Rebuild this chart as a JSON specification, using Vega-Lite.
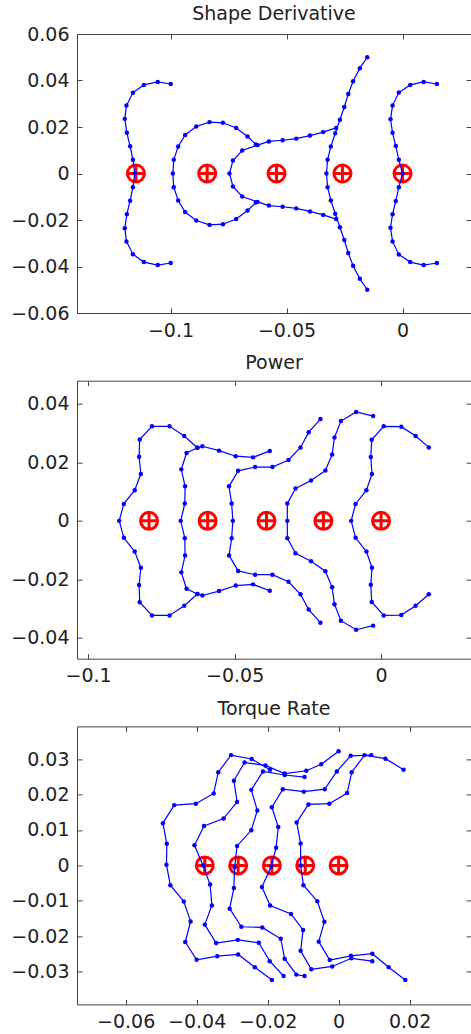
{
"$schema": "https://vega.github.io/schema/vega-lite/v6.json",
"padding": {"left": 0, "top": 5, "right": 0, "bottom": 0},
"spacing": 13.7,
"background": "white",
"config": {
  "axis": {"grid": false, "domainColor": "#444", "tickColor": "#444", "tickSize": -5, "labelFont": "DejaVu Sans", "labelFontSize": 19, "labelColor": "#222", "title": null, "format": "~g", "labelPadding": 13},
  "title": {"font": "DejaVu Sans", "fontSize": 19, "fontWeight": "normal", "color": "#222", "baseline": "alphabetic"},
  "view": {"stroke": null}
},
"datasets": {
  "sd": [
    {"c":1,"i":0,"x":-0.0999,"y":0.0385},{"c":1,"i":1,"x":-0.1055,"y":0.0394},{"c":1,"i":2,"x":-0.1115,"y":0.0381},{"c":1,"i":3,"x":-0.1162,"y":0.0347},{"c":1,"i":4,"x":-0.1190,"y":0.0292},{"c":1,"i":5,"x":-0.1197,"y":0.0235},{"c":1,"i":6,"x":-0.1188,"y":0.0175},{"c":1,"i":7,"x":-0.1174,"y":0.0117},{"c":1,"i":8,"x":-0.1162,"y":0.0059},{"c":1,"i":9,"x":-0.1154,"y":0},{"c":1,"i":10,"x":-0.1162,"y":-0.0059},{"c":1,"i":11,"x":-0.1174,"y":-0.0117},{"c":1,"i":12,"x":-0.1188,"y":-0.0175},{"c":1,"i":13,"x":-0.1197,"y":-0.0235},{"c":1,"i":14,"x":-0.1190,"y":-0.0292},{"c":1,"i":15,"x":-0.1162,"y":-0.0347},{"c":1,"i":16,"x":-0.1115,"y":-0.0381},{"c":1,"i":17,"x":-0.1055,"y":-0.0394},{"c":1,"i":18,"x":-0.0999,"y":-0.0385},
    {"c":2,"i":0,"x":-0.0632,"y":0.0125},{"c":2,"i":1,"x":-0.0668,"y":0.0159},{"c":2,"i":2,"x":-0.0717,"y":0.0196},{"c":2,"i":3,"x":-0.0774,"y":0.0218},{"c":2,"i":4,"x":-0.0832,"y":0.0221},{"c":2,"i":5,"x":-0.0889,"y":0.0202},{"c":2,"i":6,"x":-0.0937,"y":0.0166},{"c":2,"i":7,"x":-0.0967,"y":0.0116},{"c":2,"i":8,"x":-0.0986,"y":0.0059},{"c":2,"i":9,"x":-0.0990,"y":0},{"c":2,"i":10,"x":-0.0986,"y":-0.0059},{"c":2,"i":11,"x":-0.0967,"y":-0.0116},{"c":2,"i":12,"x":-0.0937,"y":-0.0166},{"c":2,"i":13,"x":-0.0889,"y":-0.0202},{"c":2,"i":14,"x":-0.0832,"y":-0.0221},{"c":2,"i":15,"x":-0.0774,"y":-0.0218},{"c":2,"i":16,"x":-0.0717,"y":-0.0196},{"c":2,"i":17,"x":-0.0668,"y":-0.0159},{"c":2,"i":18,"x":-0.0632,"y":-0.0125},
    {"c":3,"i":0,"x":-0.0286,"y":0.0196},{"c":3,"i":1,"x":-0.0342,"y":0.0178},{"c":3,"i":2,"x":-0.0399,"y":0.0163},{"c":3,"i":3,"x":-0.0458,"y":0.0150},{"c":3,"i":4,"x":-0.0517,"y":0.0143},{"c":3,"i":5,"x":-0.0576,"y":0.0138},{"c":3,"i":6,"x":-0.0625,"y":0.0122},{"c":3,"i":7,"x":-0.0691,"y":0.0099},{"c":3,"i":8,"x":-0.0731,"y":0.0056},{"c":3,"i":9,"x":-0.0746,"y":0},{"c":3,"i":10,"x":-0.0731,"y":-0.0056},{"c":3,"i":11,"x":-0.0691,"y":-0.0099},{"c":3,"i":12,"x":-0.0625,"y":-0.0122},{"c":3,"i":13,"x":-0.0576,"y":-0.0138},{"c":3,"i":14,"x":-0.0517,"y":-0.0143},{"c":3,"i":15,"x":-0.0458,"y":-0.0150},{"c":3,"i":16,"x":-0.0399,"y":-0.0163},{"c":3,"i":17,"x":-0.0342,"y":-0.0178},{"c":3,"i":18,"x":-0.0286,"y":-0.0196},
    {"c":4,"i":0,"x":-0.0152,"y":0.0500},{"c":4,"i":1,"x":-0.0184,"y":0.0453},{"c":4,"i":2,"x":-0.0213,"y":0.0397},{"c":4,"i":3,"x":-0.0234,"y":0.0342},{"c":4,"i":4,"x":-0.0251,"y":0.0286},{"c":4,"i":5,"x":-0.0270,"y":0.0231},{"c":4,"i":6,"x":-0.0290,"y":0.0173},{"c":4,"i":7,"x":-0.0309,"y":0.0116},{"c":4,"i":8,"x":-0.0323,"y":0.0059},{"c":4,"i":9,"x":-0.0328,"y":0},{"c":4,"i":10,"x":-0.0323,"y":-0.0059},{"c":4,"i":11,"x":-0.0309,"y":-0.0116},{"c":4,"i":12,"x":-0.0290,"y":-0.0173},{"c":4,"i":13,"x":-0.0270,"y":-0.0231},{"c":4,"i":14,"x":-0.0251,"y":-0.0286},{"c":4,"i":15,"x":-0.0234,"y":-0.0342},{"c":4,"i":16,"x":-0.0213,"y":-0.0397},{"c":4,"i":17,"x":-0.0184,"y":-0.0453},{"c":4,"i":18,"x":-0.0152,"y":-0.0500},
    {"c":5,"i":0,"x":0.0148,"y":0.0385},{"c":5,"i":1,"x":0.0091,"y":0.0394},{"c":5,"i":2,"x":0.0033,"y":0.0381},{"c":5,"i":3,"x":-0.0016,"y":0.0348},{"c":5,"i":4,"x":-0.0043,"y":0.0292},{"c":5,"i":5,"x":-0.0052,"y":0.0233},{"c":5,"i":6,"x":-0.0043,"y":0.0175},{"c":5,"i":7,"x":-0.0029,"y":0.0118},{"c":5,"i":8,"x":-0.0016,"y":0.0059},{"c":5,"i":9,"x":0,"y":0},{"c":5,"i":10,"x":-0.0016,"y":-0.0059},{"c":5,"i":11,"x":-0.0029,"y":-0.0118},{"c":5,"i":12,"x":-0.0043,"y":-0.0175},{"c":5,"i":13,"x":-0.0052,"y":-0.0233},{"c":5,"i":14,"x":-0.0043,"y":-0.0292},{"c":5,"i":15,"x":-0.0016,"y":-0.0348},{"c":5,"i":16,"x":0.0033,"y":-0.0381},{"c":5,"i":17,"x":0.0091,"y":-0.0394},{"c":5,"i":18,"x":0.0148,"y":-0.0385}
  ],
  "sdm": [{"x":-0.1149,"y":0},{"x":-0.0842,"y":0},{"x":-0.0543,"y":0},{"x":-0.0259,"y":0},{"x":0,"y":0}],
  "pw": [
    {"c":1,"i":0,"x":-0.0380,"y":0.0239},{"c":1,"i":1,"x":-0.0437,"y":0.0217},{"c":1,"i":2,"x":-0.0496,"y":0.0221},{"c":1,"i":3,"x":-0.0553,"y":0.0240},{"c":1,"i":4,"x":-0.0610,"y":0.0255},{"c":1,"i":5,"x":-0.0627,"y":0.0250},{"c":1,"i":6,"x":-0.0672,"y":0.0290},{"c":1,"i":7,"x":-0.0722,"y":0.0323},{"c":1,"i":8,"x":-0.0782,"y":0.0323},{"c":1,"i":9,"x":-0.0824,"y":0.0278},{"c":1,"i":10,"x":-0.0826,"y":0.0219},{"c":1,"i":11,"x":-0.0820,"y":0.0160},{"c":1,"i":12,"x":-0.0841,"y":0.0105},{"c":1,"i":13,"x":-0.0878,"y":0.0058},{"c":1,"i":14,"x":-0.0894,"y":0},{"c":1,"i":15,"x":-0.0878,"y":-0.0058},{"c":1,"i":16,"x":-0.0841,"y":-0.0105},{"c":1,"i":17,"x":-0.0820,"y":-0.0160},{"c":1,"i":18,"x":-0.0826,"y":-0.0219},{"c":1,"i":19,"x":-0.0824,"y":-0.0278},{"c":1,"i":20,"x":-0.0782,"y":-0.0323},{"c":1,"i":21,"x":-0.0722,"y":-0.0323},{"c":1,"i":22,"x":-0.0672,"y":-0.0290},{"c":1,"i":23,"x":-0.0627,"y":-0.0250},{"c":1,"i":24,"x":-0.0610,"y":-0.0255},{"c":1,"i":25,"x":-0.0553,"y":-0.0240},{"c":1,"i":26,"x":-0.0496,"y":-0.0221},{"c":1,"i":27,"x":-0.0437,"y":-0.0217},{"c":1,"i":28,"x":-0.0380,"y":-0.0239},
    {"c":2,"i":0,"x":-0.0627,"y":0.0250},{"c":2,"i":1,"x":-0.0664,"y":0.0232},{"c":2,"i":2,"x":-0.0682,"y":0.0176},{"c":2,"i":3,"x":-0.0669,"y":0.0118},{"c":2,"i":4,"x":-0.0670,"y":0.0059},{"c":2,"i":5,"x":-0.0684,"y":0},{"c":2,"i":6,"x":-0.0670,"y":-0.0059},{"c":2,"i":7,"x":-0.0669,"y":-0.0118},{"c":2,"i":8,"x":-0.0682,"y":-0.0176},{"c":2,"i":9,"x":-0.0664,"y":-0.0232},{"c":2,"i":10,"x":-0.0627,"y":-0.0250},
    {"c":3,"i":0,"x":-0.0207,"y":0.0348},{"c":3,"i":1,"x":-0.0247,"y":0.0303},{"c":3,"i":2,"x":-0.0275,"y":0.0251},{"c":3,"i":3,"x":-0.0316,"y":0.0208},{"c":3,"i":4,"x":-0.0371,"y":0.0184},{"c":3,"i":5,"x":-0.0430,"y":0.0184},{"c":3,"i":6,"x":-0.0488,"y":0.0171},{"c":3,"i":7,"x":-0.0519,"y":0.0118},{"c":3,"i":8,"x":-0.0510,"y":0.0059},{"c":3,"i":9,"x":-0.0506,"y":0},{"c":3,"i":10,"x":-0.0510,"y":-0.0059},{"c":3,"i":11,"x":-0.0519,"y":-0.0118},{"c":3,"i":12,"x":-0.0488,"y":-0.0171},{"c":3,"i":13,"x":-0.0430,"y":-0.0184},{"c":3,"i":14,"x":-0.0371,"y":-0.0184},{"c":3,"i":15,"x":-0.0316,"y":-0.0208},{"c":3,"i":16,"x":-0.0275,"y":-0.0251},{"c":3,"i":17,"x":-0.0247,"y":-0.0303},{"c":3,"i":18,"x":-0.0207,"y":-0.0348},
    {"c":4,"i":0,"x":-0.0027,"y":0.0358},{"c":4,"i":1,"x":-0.0085,"y":0.0372},{"c":4,"i":2,"x":-0.0137,"y":0.0341},{"c":4,"i":3,"x":-0.0159,"y":0.0285},{"c":4,"i":4,"x":-0.0167,"y":0.0227},{"c":4,"i":5,"x":-0.0190,"y":0.0172},{"c":4,"i":6,"x":-0.0239,"y":0.0138},{"c":4,"i":7,"x":-0.0292,"y":0.0111},{"c":4,"i":8,"x":-0.0320,"y":0.0059},{"c":4,"i":9,"x":-0.0320,"y":0},{"c":4,"i":10,"x":-0.0320,"y":-0.0059},{"c":4,"i":11,"x":-0.0292,"y":-0.0111},{"c":4,"i":12,"x":-0.0239,"y":-0.0138},{"c":4,"i":13,"x":-0.0190,"y":-0.0172},{"c":4,"i":14,"x":-0.0167,"y":-0.0227},{"c":4,"i":15,"x":-0.0159,"y":-0.0285},{"c":4,"i":16,"x":-0.0137,"y":-0.0341},{"c":4,"i":17,"x":-0.0085,"y":-0.0372},{"c":4,"i":18,"x":-0.0027,"y":-0.0358},
    {"c":5,"i":0,"x":0.0163,"y":0.0251},{"c":5,"i":1,"x":0.0118,"y":0.0290},{"c":5,"i":2,"x":0.0069,"y":0.0322},{"c":5,"i":3,"x":0.0009,"y":0.0323},{"c":5,"i":4,"x":-0.0032,"y":0.0277},{"c":5,"i":5,"x":-0.0035,"y":0.0218},{"c":5,"i":6,"x":-0.0031,"y":0.0160},{"c":5,"i":7,"x":-0.0050,"y":0.0105},{"c":5,"i":8,"x":-0.0087,"y":0.0058},{"c":5,"i":9,"x":-0.0102,"y":0},{"c":5,"i":10,"x":-0.0087,"y":-0.0058},{"c":5,"i":11,"x":-0.0050,"y":-0.0105},{"c":5,"i":12,"x":-0.0031,"y":-0.0160},{"c":5,"i":13,"x":-0.0035,"y":-0.0218},{"c":5,"i":14,"x":-0.0032,"y":-0.0277},{"c":5,"i":15,"x":0.0009,"y":-0.0323},{"c":5,"i":16,"x":0.0069,"y":-0.0322},{"c":5,"i":17,"x":0.0118,"y":-0.0290},{"c":5,"i":18,"x":0.0163,"y":-0.0251}
  ],
  "pwm": [{"x":-0.0792,"y":0},{"x":-0.0592,"y":0},{"x":-0.0391,"y":0},{"x":-0.0197,"y":0},{"x":0,"y":0}],
  "tr": [
    {"c":1,"i":0,"x":-0.0193,"y":0.0270},{"c":1,"i":1,"x":-0.0245,"y":0.0300},{"c":1,"i":2,"x":-0.0303,"y":0.0311},{"c":1,"i":3,"x":-0.0339,"y":0.0263},{"c":1,"i":4,"x":-0.0352,"y":0.0203},{"c":1,"i":5,"x":-0.0402,"y":0.0174},{"c":1,"i":6,"x":-0.0463,"y":0.0170},{"c":1,"i":7,"x":-0.0495,"y":0.0119},{"c":1,"i":8,"x":-0.0484,"y":0.0061},{"c":1,"i":9,"x":-0.0485,"y":0.0002},{"c":1,"i":10,"x":-0.0474,"y":-0.0056},{"c":1,"i":11,"x":-0.0436,"y":-0.0102},{"c":1,"i":12,"x":-0.0417,"y":-0.0158},{"c":1,"i":13,"x":-0.0432,"y":-0.0216},{"c":1,"i":14,"x":-0.0400,"y":-0.0266},{"c":1,"i":15,"x":-0.0342,"y":-0.0256},{"c":1,"i":16,"x":-0.0283,"y":-0.0251},{"c":1,"i":17,"x":-0.0236,"y":-0.0287},{"c":1,"i":18,"x":-0.0188,"y":-0.0323},
    {"c":2,"i":0,"x":0,"y":0.0322},{"c":2,"i":1,"x":-0.0049,"y":0.0285},{"c":2,"i":2,"x":-0.0091,"y":0.0267},{"c":2,"i":3,"x":-0.0152,"y":0.0259},{"c":2,"i":4,"x":-0.0206,"y":0.0282},{"c":2,"i":5,"x":-0.0265,"y":0.0290},{"c":2,"i":6,"x":-0.0295,"y":0.0239},{"c":2,"i":7,"x":-0.0286,"y":0.0179},{"c":2,"i":8,"x":-0.0324,"y":0.0132},{"c":2,"i":9,"x":-0.0379,"y":0.0111},{"c":2,"i":10,"x":-0.0406,"y":0.0057},{"c":2,"i":11,"x":-0.0382,"y":0},{"c":2,"i":12,"x":-0.0362,"y":-0.0054},{"c":2,"i":13,"x":-0.0357,"y":-0.0113},{"c":2,"i":14,"x":-0.0377,"y":-0.0167},{"c":2,"i":15,"x":-0.0345,"y":-0.0219},{"c":2,"i":16,"x":-0.0284,"y":-0.0210},{"c":2,"i":17,"x":-0.0225,"y":-0.0218},{"c":2,"i":18,"x":-0.0194,"y":-0.0270},{"c":2,"i":19,"x":-0.0155,"y":-0.0312},
    {"c":3,"i":0,"x":-0.0096,"y":0.0249},{"c":3,"i":1,"x":-0.0152,"y":0.0255},{"c":3,"i":2,"x":-0.0213,"y":0.0265},{"c":3,"i":3,"x":-0.0246,"y":0.0213},{"c":3,"i":4,"x":-0.0229,"y":0.0155},{"c":3,"i":5,"x":-0.0246,"y":0.0099},{"c":3,"i":6,"x":-0.0286,"y":0.0055},{"c":3,"i":7,"x":-0.0293,"y":-0.0005},{"c":3,"i":8,"x":-0.0295,"y":-0.0064},{"c":3,"i":9,"x":-0.0307,"y":-0.0122},{"c":3,"i":10,"x":-0.0274,"y":-0.0173},{"c":3,"i":11,"x":-0.0215,"y":-0.0175},{"c":3,"i":12,"x":-0.0163,"y":-0.0207},{"c":3,"i":13,"x":-0.0152,"y":-0.0263},{"c":3,"i":14,"x":-0.0119,"y":-0.0308},{"c":3,"i":15,"x":-0.0096,"y":-0.0312},
    {"c":4,"i":0,"x":0.0092,"y":0.0311},{"c":4,"i":1,"x":0.0034,"y":0.0309},{"c":4,"i":2,"x":-0.0005,"y":0.0265},{"c":4,"i":3,"x":-0.0039,"y":0.0215},{"c":4,"i":4,"x":-0.0098,"y":0.0208},{"c":4,"i":5,"x":-0.0157,"y":0.0215},{"c":4,"i":6,"x":-0.0188,"y":0.0164},{"c":4,"i":7,"x":-0.0170,"y":0.0108},{"c":4,"i":8,"x":-0.0176,"y":0.0050},{"c":4,"i":9,"x":-0.0190,"y":-0.0003},{"c":4,"i":10,"x":-0.0216,"y":-0.0061},{"c":4,"i":11,"x":-0.0193,"y":-0.0113},{"c":4,"i":12,"x":-0.0134,"y":-0.0137},{"c":4,"i":13,"x":-0.0100,"y":-0.0182},{"c":4,"i":14,"x":-0.0107,"y":-0.0241},{"c":4,"i":15,"x":-0.0077,"y":-0.0293},{"c":4,"i":16,"x":-0.0018,"y":-0.0285},{"c":4,"i":17,"x":0.0036,"y":-0.0262},{"c":4,"i":18,"x":0.0095,"y":-0.0270},
    {"c":5,"i":0,"x":0.0183,"y":0.0270},{"c":5,"i":1,"x":0.0132,"y":0.0301},{"c":5,"i":2,"x":0.0073,"y":0.0311},{"c":5,"i":3,"x":0.0037,"y":0.0263},{"c":5,"i":4,"x":0.0024,"y":0.0204},{"c":5,"i":5,"x":-0.0026,"y":0.0174},{"c":5,"i":6,"x":-0.0085,"y":0.0172},{"c":5,"i":7,"x":-0.0118,"y":0.0121},{"c":5,"i":8,"x":-0.0107,"y":0.0062},{"c":5,"i":9,"x":-0.0107,"y":0},{"c":5,"i":10,"x":-0.0099,"y":-0.0056},{"c":5,"i":11,"x":-0.0060,"y":-0.0101},{"c":5,"i":12,"x":-0.0040,"y":-0.0159},{"c":5,"i":13,"x":-0.0056,"y":-0.0215},{"c":5,"i":14,"x":-0.0025,"y":-0.0267},{"c":5,"i":15,"x":0.0035,"y":-0.0255},{"c":5,"i":16,"x":0.0095,"y":-0.0249},{"c":5,"i":17,"x":0.0141,"y":-0.0287},{"c":5,"i":18,"x":0.0188,"y":-0.0323}
  ],
  "trm": [{"x":-0.0377,"y":0},{"x":-0.0283,"y":0},{"x":-0.0188,"y":0},{"x":-0.0094,"y":0},{"x":0,"y":0}]
},
"vconcat": [
  {
    "width": 394, "height": 279,
    "title": {"text": "Shape Derivative", "offset": 1},
    "layer": [
      {"data": {"name": "sdm"},
       "mark": {"type": "point", "shape": "M-1,0A1,1 0 1,1 1,0A1,1 0 1,1 -1,0M-1,0L1,0M0,-1L0,1", "filled": false, "stroke": "#ff0000", "strokeWidth": 3, "size": 289, "opacity": 1},
       "encoding": {
         "x": {"field": "x", "type": "quantitative", "scale": {"domain": [-0.1403, 0.0295], "nice": false, "zero": false}, "axis": {"orient": "top", "labels": false, "values": [-0.1, -0.05, 0]}},
         "y": {"field": "y", "type": "quantitative", "scale": {"domain": [-0.06, 0.06], "nice": false, "zero": false}, "axis": {"orient": "right", "labels": false, "domain": false, "values": [-0.06, -0.04, -0.02, 0, 0.02, 0.04, 0.06]}}
       }},
      {"data": {"name": "sd"},
       "mark": {"type": "line", "color": "#0000ff", "strokeWidth": 1.2, "point": {"filled": true, "size": 20, "color": "#0000ff", "opacity": 1}},
       "encoding": {
         "x": {"field": "x", "type": "quantitative", "scale": {"domain": [-0.1403, 0.0295], "nice": false, "zero": false}, "axis": {"orient": "bottom", "values": [-0.1, -0.05, 0]}},
         "y": {"field": "y", "type": "quantitative", "scale": {"domain": [-0.06, 0.06], "nice": false, "zero": false}, "axis": {"orient": "left", "values": [-0.06, -0.04, -0.02, 0, 0.02, 0.04, 0.06], "minExtent": 77, "maxExtent": 77}},
         "detail": {"field": "c", "type": "nominal"},
         "order": {"field": "i", "type": "quantitative"}
       }}
    ],
    "resolve": {"axis": {"x": "independent", "y": "independent"}}
  },
  {
    "width": 394, "height": 278,
    "title": {"text": "Power", "offset": 7},
    "layer": [
      {"data": {"name": "pwm"},
       "mark": {"type": "point", "shape": "M-1,0A1,1 0 1,1 1,0A1,1 0 1,1 -1,0M-1,0L1,0M0,-1L0,1", "filled": false, "stroke": "#ff0000", "strokeWidth": 3, "size": 289, "opacity": 1},
       "encoding": {
         "x": {"field": "x", "type": "quantitative", "scale": {"domain": [-0.1038, 0.0307], "nice": false, "zero": false}, "axis": {"orient": "top", "labels": false, "values": [-0.1, -0.05, 0]}},
         "y": {"field": "y", "type": "quantitative", "scale": {"domain": [-0.0471, 0.0479], "nice": false, "zero": false}, "axis": {"orient": "right", "labels": false, "domain": false, "values": [-0.04, -0.02, 0, 0.02, 0.04]}}
       }},
      {"data": {"name": "pw"},
       "mark": {"type": "line", "color": "#0000ff", "strokeWidth": 1.2, "point": {"filled": true, "size": 20, "color": "#0000ff", "opacity": 1}},
       "encoding": {
         "x": {"field": "x", "type": "quantitative", "scale": {"domain": [-0.1038, 0.0307], "nice": false, "zero": false}, "axis": {"orient": "bottom", "values": [-0.1, -0.05, 0]}},
         "y": {"field": "y", "type": "quantitative", "scale": {"domain": [-0.0471, 0.0479], "nice": false, "zero": false}, "axis": {"orient": "left", "values": [-0.04, -0.02, 0, 0.02, 0.04], "minExtent": 77, "maxExtent": 77}},
         "detail": {"field": "c", "type": "nominal"},
         "order": {"field": "i", "type": "quantitative"}
       }}
    ],
    "resolve": {"axis": {"x": "independent", "y": "independent"}}
  },
  {
    "width": 394, "height": 278,
    "title": {"text": "Torque Rate", "offset": 7},
    "layer": [
      {"data": {"name": "trm"},
       "mark": {"type": "point", "shape": "M-1,0A1,1 0 1,1 1,0A1,1 0 1,1 -1,0M-1,0L1,0M0,-1L0,1", "filled": false, "stroke": "#ff0000", "strokeWidth": 3, "size": 289, "opacity": 1},
       "encoding": {
         "x": {"field": "x", "type": "quantitative", "scale": {"domain": [-0.0737, 0.0373], "nice": false, "zero": false}, "axis": {"orient": "top", "labels": false, "values": [-0.06, -0.04, -0.02, 0, 0.02]}},
         "y": {"field": "y", "type": "quantitative", "scale": {"domain": [-0.0392, 0.0392], "nice": false, "zero": false}, "axis": {"orient": "right", "labels": false, "domain": false, "values": [-0.03, -0.02, -0.01, 0, 0.01, 0.02, 0.03]}}
       }},
      {"data": {"name": "tr"},
       "mark": {"type": "line", "color": "#0000ff", "strokeWidth": 1.2, "point": {"filled": true, "size": 20, "color": "#0000ff", "opacity": 1}},
       "encoding": {
         "x": {"field": "x", "type": "quantitative", "scale": {"domain": [-0.0737, 0.0373], "nice": false, "zero": false}, "axis": {"orient": "bottom", "values": [-0.06, -0.04, -0.02, 0, 0.02]}},
         "y": {"field": "y", "type": "quantitative", "scale": {"domain": [-0.0392, 0.0392], "nice": false, "zero": false}, "axis": {"orient": "left", "values": [-0.03, -0.02, -0.01, 0, 0.01, 0.02, 0.03], "minExtent": 77, "maxExtent": 77}},
         "detail": {"field": "c", "type": "nominal"},
         "order": {"field": "i", "type": "quantitative"}
       }}
    ],
    "resolve": {"axis": {"x": "independent", "y": "independent"}}
  }
]
}
